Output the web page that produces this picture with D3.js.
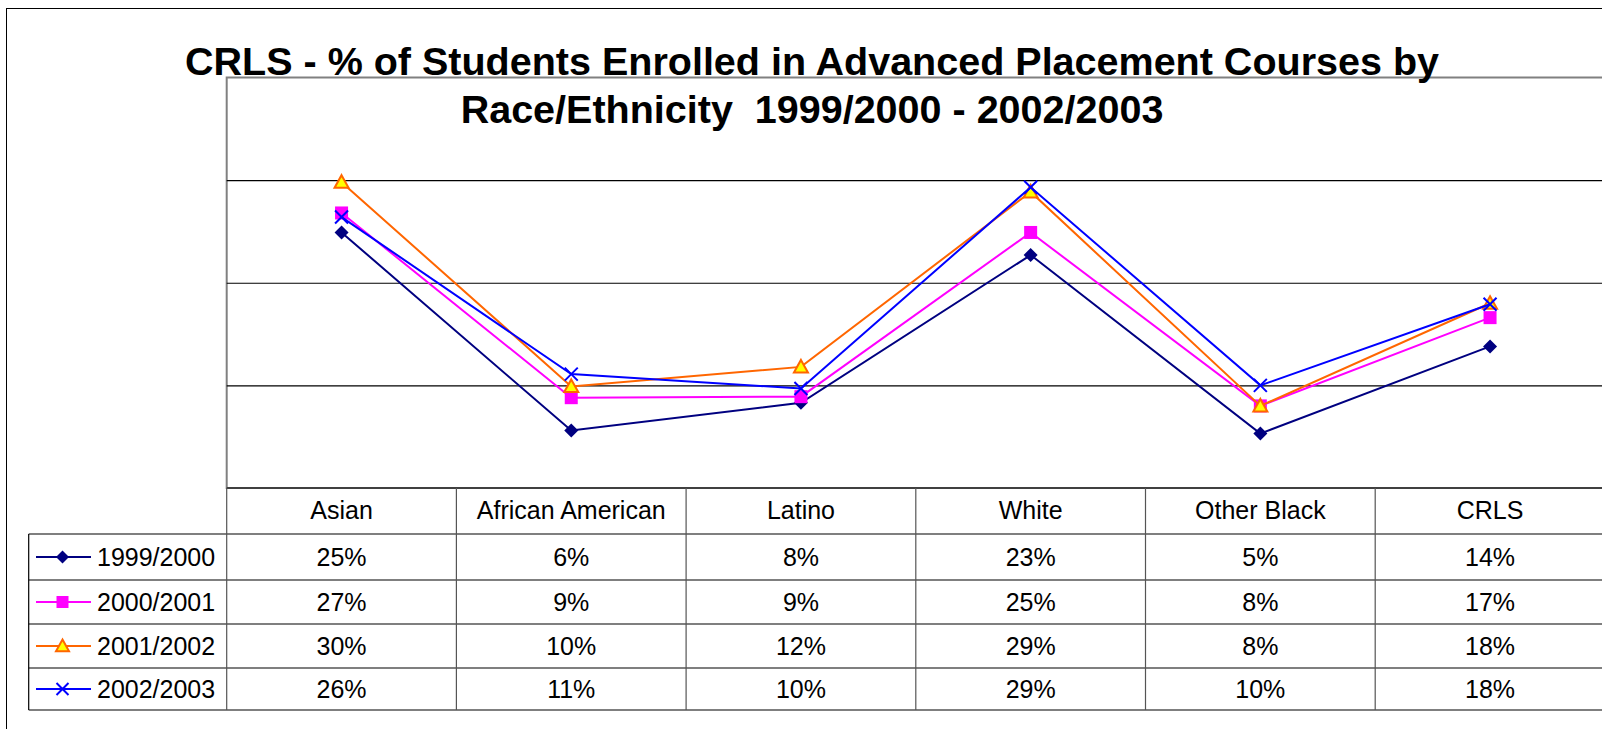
<!DOCTYPE html>
<html>
<head>
<meta charset="utf-8">
<script src="https://cdn.jsdelivr.net/npm/d3@7"></script>
<style>
  body { margin: 0; background: #fff; }
  svg { display: block; font-family: "Liberation Sans", Arial, sans-serif; }
</style>
</head>
<body>
<svg width="1602" height="729"></svg>
<script>
const categories = ["Asian", "African American", "Latino", "White", "Other Black", "CRLS"];
const seriesNames = ["1999/2000", "2000/2001", "2001/2002", "2002/2003"];
const v1999 = [0.249, 0.056, 0.083, 0.227, 0.053, 0.138];
const v2000 = [0.268, 0.088, 0.089, 0.249, 0.080, 0.166];
const v2001 = [0.298, 0.099, 0.118, 0.2885, 0.080, 0.180];
const v2002 = [0.264, 0.111, 0.097, 0.293, 0.100, 0.179];
const gridTicks = [0.1, 0.2, 0.3];
const titleLines = ["CRLS - % of Students Enrolled in Advanced Placement Courses by", "Race/Ethnicity  1999/2000 - 2002/2003"];

// 시리즈별 스타일
const styles = [
  { stroke: "#000080", fill: "#000080", shape: "diamond", size: 14 },
  { stroke: "#ff00ff", fill: "#ff00ff", shape: "square", size: 13 },
  { stroke: "#ff6600", fill: "#ffff00", shape: "triangle", size: 14 },
  { stroke: "#0000ff", fill: "none", shape: "x", size: 13 },
];
const series = seriesNames.map((name, i) => ({
  name,
  values: [v1999, v2000, v2001, v2002][i],
  ...styles[i],
}));

const svg = d3.select("svg");
const plotLeft = 226.7;
const colW = 229.7;
const plotBottom = 488;
const rowH = [46, 46, 44, 44, 42];

const x = d3.scaleBand().domain(categories).range([plotLeft, plotLeft + colW * categories.length]);
const y = d3.scaleLinear().domain([0, 0.4]).range([plotBottom, 77.5]);
const fmt = d3.format(".0%");

// 바깥 테두리
svg.append("rect")
  .attr("x", 6.5).attr("y", 8.5).attr("width", 1700).attr("height", 800)
  .attr("fill", "#fff").attr("stroke", "#000").attr("stroke-width", 1);

// 플롯 영역
svg.append("rect")
  .attr("x", plotLeft).attr("y", y(0.4)).attr("width", 1500).attr("height", plotBottom - y(0.4))
  .attr("fill", "#fff").attr("stroke", "#808080").attr("stroke-width", 2);

// 눈금선
svg.append("g")
  .attr("transform", `translate(${plotLeft},0)`)
  .call(d3.axisLeft(y).tickValues(gridTicks).tickSize(-1500).tickFormat(""))
  .call((g) => g.select(".domain").remove())
  .call((g) => g.selectAll("line").attr("stroke", "#000").attr("stroke-width", 1.2));

// 제목 (두 칸 공백 유지)
svg.append("text")
  .attr("text-anchor", "middle")
  .style("font-size", "39.5px").style("font-weight", "bold").style("white-space", "pre")
  .selectAll("tspan").data(titleLines).enter().append("tspan")
  .attr("x", 812).attr("y", (d, i) => 75 + i * 48)
  .text((d) => d);

function marker(sel, s, size) {
  const h = size / 2;
  if (s.shape === "diamond") {
    sel.append("path").attr("d", `M0,${-h}L${h},0L0,${h}L${-h},0Z`).attr("fill", s.fill);
  } else if (s.shape === "square") {
    sel.append("rect").attr("x", -h).attr("y", -h).attr("width", size).attr("height", size).attr("fill", s.fill);
  } else if (s.shape === "triangle") {
    sel.append("path").attr("d", `M0,${-h}L${h},${h * 0.8}L${-h},${h * 0.8}Z`)
      .attr("fill", s.fill).attr("stroke", s.stroke).attr("stroke-width", 2);
  } else {
    sel.append("path").attr("d", `M${-h},${-h}L${h},${h}M${-h},${h}L${h},${-h}`)
      .attr("stroke", s.stroke).attr("stroke-width", 2).attr("fill", "none");
  }
}

// 선과 마커
const line = d3.line()
  .x((d, i) => x(categories[i]) + x.bandwidth() / 2)
  .y((d) => y(d));

series.forEach((s) => {
  const g = svg.append("g");
  g.append("path")
    .attr("d", line(s.values))
    .attr("fill", "none").attr("stroke", s.stroke).attr("stroke-width", 2);
  g.selectAll("g").data(s.values).enter().append("g")
    .attr("transform", (d, i) => `translate(${x(categories[i]) + x.bandwidth() / 2},${y(d)})`)
    .each(function () { marker(d3.select(this), s, s.size); });
});

// 데이터 표
const rowTops = [plotBottom];
rowH.forEach((h) => rowTops.push(rowTops[rowTops.length - 1] + h));
const tableRight = 1700;
const legendLeft = 28.7;
const table = svg.append("g");

// 가로선
rowTops.forEach((ty, i) => {
  table.append("line")
    .attr("x1", i === 0 ? plotLeft : legendLeft).attr("x2", tableRight)
    .attr("y1", ty).attr("y2", ty)
    .attr("stroke", "#000").attr("stroke-width", 1.2);
});
// 세로선
table.append("line")
  .attr("x1", legendLeft).attr("x2", legendLeft)
  .attr("y1", rowTops[1]).attr("y2", rowTops[5])
  .attr("stroke", "#000").attr("stroke-width", 1.2);
categories.forEach((c) => {
  table.append("line")
    .attr("x1", x(c)).attr("x2", x(c))
    .attr("y1", rowTops[0]).attr("y2", rowTops[5])
    .attr("stroke", "#555").attr("stroke-width", 1.2);
});

// 헤더
table.selectAll(".hdr").data(categories).enter().append("text")
  .attr("class", "hdr")
  .attr("x", (d) => x(d) + x.bandwidth() / 2)
  .attr("y", rowTops[0] + 31)
  .attr("text-anchor", "middle")
  .style("font-size", "25px")
  .text((d) => d);

// 값과 범례
series.forEach((s, r) => {
  const top = rowTops[r + 1];
  const cy = top + rowH[r + 1] / 2;
  table.selectAll(null).data(s.values).enter().append("text")
    .attr("x", (d, i) => x(categories[i]) + x.bandwidth() / 2)
    .attr("y", cy + 9)
    .attr("text-anchor", "middle")
    .style("font-size", "25px")
    .text((d) => fmt(d));

  const lg = table.append("g");
  lg.append("line")
    .attr("x1", 36).attr("x2", 91).attr("y1", cy).attr("y2", cy)
    .attr("stroke", s.stroke).attr("stroke-width", 2);
  marker(lg.append("g").attr("transform", `translate(62.5,${cy})`), s, s.size - 1);
  lg.append("text")
    .attr("x", 97).attr("y", cy + 9)
    .style("font-size", "25px")
    .text(s.name);
});
</script>
</body>
</html>
